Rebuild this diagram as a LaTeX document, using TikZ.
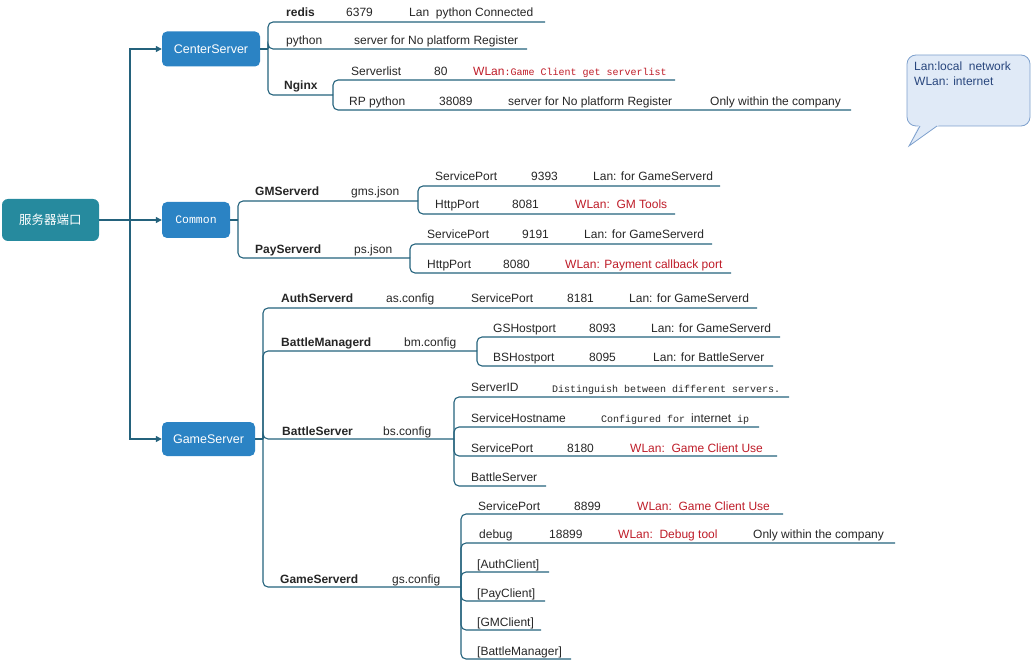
\documentclass[tikz,border=0pt]{standalone}
\usepackage{fontspec}
\setmainfont{Liberation Sans}
\newfontfamily\monof{Liberation Mono}
\newfontfamily\cjkf{Noto Sans CJK SC}
\usetikzlibrary{arrows.meta}

\definecolor{rootc}{RGB}{38,138,158}
\definecolor{boxc}{RGB}{43,131,196}
\definecolor{linec}{RGB}{36,98,124}
\definecolor{txtc}{RGB}{38,38,38}
\definecolor{redc}{RGB}{190,28,40}
\definecolor{notefill}{RGB}{224,234,247}
\definecolor{notedraw}{RGB}{125,160,205}
\definecolor{notetxt}{RGB}{40,70,125}

% text node at a baseline position: \tx[style]{name}{x}{baseline}{text}
\newcommand\tx[5][]{\node[lbl,#1] (#2) at (#3,#4) {#5};}
% end point of an underline: \ept{name}{x}{y}
\newcommand\ept[3]{\coordinate (#1) at (#2,#3);}
\newcommand\mono[1]{{\monof\fontsize{10}{12}\selectfont #1}}

\tikzset{
  lbl/.style={anchor=base west, inner sep=0pt, text=txtc, font=\fontsize{12}{14}\selectfont},
  bold/.style={font=\fontsize{12}{14}\selectfont\bfseries},
  red/.style={text=redc},
  ln/.style={draw=linec, line width=1.1pt},
  elbow/.style={ln, rounded corners=5pt},
  arr/.style={ln, -{Triangle[length=6pt,width=6pt]}},
  topic/.style={rounded corners=5pt, inner sep=0pt, text=white,
    font=\fontsize{12.5}{14}\selectfont}
}

\begin{document}
\begin{tikzpicture}[x=1pt,y=-1pt]
\useasboundingbox (0,0) rectangle (1031,660);

% ---- main topics ----
\node[topic, fill=rootc, rounded corners=6pt, minimum width=97pt, minimum height=42pt]
  (root) at (50.5,220) {\cjkf 服务器端口};
\node[topic, fill=boxc, minimum width=98pt, minimum height=35pt]
  (cs) at (211,49) {CenterServer};
\node[topic, fill=boxc, minimum width=68pt, minimum height=36pt]
  (com) at (196,220) {{\monof\fontsize{11.5}{13}\selectfont Common}};
\node[topic, fill=boxc, minimum width=93pt, minimum height=34pt]
  (gs) at (208.5,439) {GameServer};

% trunk
\coordinate (trunk) at (130,220);
\draw[ln] (root.east) -- (trunk);
\draw[arr] (trunk) |- (cs.west);
\draw[arr] (trunk) -- (com.west);
\draw[arr] (trunk) |- (gs.west);

% ---- CenterServer ----
\coordinate (csj) at (268,49);
\draw[ln] (cs.east) -- (csj);
\ept{redis-e}{545}{22}
\ept{python-e}{527}{49}
\ept{nginx-j}{333}{95}
\draw[elbow] (csj) |- (redis-e);
\draw[elbow] (csj) |- (python-e);
\draw[elbow] (csj) |- (nginx-j);
\tx[bold]{redis}{286}{17}{redis}
\tx{redisport}{346}{17}{6379}
\tx{redisnote}{409}{17}{Lan\ \ python Connected}
\tx{python}{286}{45}{python}
\tx{pythonnote}{354}{45}{server for No platform Register}
\tx[bold]{nginx}{284}{90}{Nginx}

\ept{slist-e}{675}{80}
\ept{rp-e}{851}{110}
\draw[elbow] (nginx-j) |- (slist-e);
\draw[elbow] (nginx-j) |- (rp-e);
\tx{slist}{351}{76}{Serverlist}
\tx{slistport}{434}{76}{80}
\tx[red]{slistnote}{473}{76}{WLan\mono{:Game Client get serverlist}}
\tx{rp}{349}{106}{RP python}
\tx{rpport}{439}{106}{38089}
\tx{rpnote}{508}{106}{server for No platform Register}
\tx{rpscope}{710}{106}{Only within the company}

% legend callout
\draw[draw=notedraw, fill=notefill, line width=0.8pt, rounded corners=9pt]
  (907,55) rectangle (1030,126);
\fill[notefill] (919,125) -- (909,146) -- (939,125) -- cycle;
\draw[draw=notedraw, line width=0.8pt] (920,126) -- (909,146) -- (937,126);
\tx[text=notetxt]{lanlegend}{914}{71}{Lan:local\ \ network}
\tx[text=notetxt]{wlanlegend}{914}{86}{WLan: internet}

% ---- Common ----
\coordinate (comj) at (238,220);
\draw[ln] (com.east) -- (comj);
\ept{gms-j}{418}{201}
\ept{ps-j}{410}{258}
\draw[elbow] (comj) |- (gms-j);
\draw[elbow] (comj) |- (ps-j);
\tx[bold]{gms}{255}{196}{GMServerd}
\tx{gmsfile}{351}{196}{gms.json}
\tx[bold]{ps}{255}{254}{PayServerd}
\tx{psfile}{354}{254}{ps.json}

\ept{gmssvc-e}{720}{186}
\ept{gmshttp-e}{675}{214}
\draw[elbow] (gms-j) |- (gmssvc-e);
\draw[elbow] (gms-j) |- (gmshttp-e);
\tx{gmssvc}{435}{181}{ServicePort}
\tx{gmssvcport}{531}{181}{9393}
\tx{gmssvcnote}{593}{181}{Lan: for GameServerd}
\tx{gmshttp}{435}{209}{HttpPort}
\tx{gmshttpport}{512}{209}{8081}
\tx[red]{gmshttpnote}{575}{209}{WLan:\ \ GM Tools}

\ept{pssvc-e}{712}{244}
\ept{pshttp-e}{731}{273}
\draw[elbow] (ps-j) |- (pssvc-e);
\draw[elbow] (ps-j) |- (pshttp-e);
\tx{pssvc}{427}{239}{ServicePort}
\tx{pssvcport}{522}{239}{9191}
\tx{pssvcnote}{584}{239}{Lan: for GameServerd}
\tx{pshttp}{427}{269}{HttpPort}
\tx{pshttpport}{503}{269}{8080}
\tx[red]{pshttpnote}{565}{269}{WLan: Payment callback port}

% ---- GameServer ----
\coordinate (gsj) at (263,439);
\draw[ln] (gs.east) -- (gsj);
\ept{as-e}{757}{308}
\ept{bm-j}{477}{351}
\ept{bs-j}{454}{439}
\ept{gsd-j}{461}{587}
\draw[elbow] (gsj) |- (as-e);
\draw[elbow] (gsj) |- (bm-j);
\draw[elbow] (gsj) |- (bs-j);
\draw[elbow] (gsj) |- (gsd-j);

\tx[bold]{as}{281}{303}{AuthServerd}
\tx{asfile}{386}{303}{as.config}
\tx{assvc}{471}{303}{ServicePort}
\tx{assvcport}{567}{303}{8181}
\tx{assvcnote}{629}{303}{Lan: for GameServerd}

\tx[bold]{bm}{281}{347}{BattleManagerd}
\tx{bmfile}{404}{347}{bm.config}
\ept{gshost-e}{780}{337}
\ept{bshost-e}{773}{366}
\draw[elbow] (bm-j) |- (gshost-e);
\draw[elbow] (bm-j) |- (bshost-e);
\tx{gshost}{493}{333}{GSHostport}
\tx{gshostport}{589}{333}{8093}
\tx{gshostnote}{651}{333}{Lan: for GameServerd}
\tx{bshost}{493}{362}{BSHostport}
\tx{bshostport}{589}{362}{8095}
\tx{bshostnote}{653}{362}{Lan: for BattleServer}

\tx[bold]{bs}{282}{435}{BattleServer}
\tx{bsfile}{383}{435}{bs.config}
\ept{bsid-e}{789}{397}
\ept{bshn-e}{759}{427}
\ept{bssvc-e}{777}{456}
\ept{bsname-e}{546}{486}
\draw[elbow] (bs-j) |- (bsid-e);
\draw[elbow] (bs-j) |- (bshn-e);
\draw[elbow] (bs-j) |- (bssvc-e);
\draw[elbow] (bs-j) |- (bsname-e);
\tx{bsid}{471}{391}{ServerID}
\tx{bsidnote}{552}{392}{\mono{Distinguish between different servers.}}
\tx{bshn}{471}{422}{ServiceHostname}
\tx{bshnnote}{601}{422}{\mono{Configured for }internet\mono{ ip}}
\tx{bssvc}{471}{452}{ServicePort}
\tx{bssvcport}{567}{452}{8180}
\tx[red]{bssvcnote}{630}{452}{WLan:\ \ Game Client Use}
\tx{bsname}{471}{481}{BattleServer}

\tx[bold]{gsd}{280}{583}{GameServerd}
\tx{gsdfile}{392}{583}{gs.config}
\ept{gsdsvc-e}{783}{514}
\ept{gsddbg-e}{895}{543}
\ept{gsdauth-e}{549}{572}
\ept{gsdpay-e}{545}{601}
\ept{gsdgm-e}{541}{630}
\ept{gsdbm-e}{571}{659}
\draw[elbow] (gsd-j) |- (gsdsvc-e);
\draw[elbow] (gsd-j) |- (gsddbg-e);
\draw[elbow] (gsd-j) |- (gsdauth-e);
\draw[elbow] (gsd-j) |- (gsdpay-e);
\draw[elbow] (gsd-j) |- (gsdgm-e);
\draw[elbow] (gsd-j) |- (gsdbm-e);
\tx{gsdsvc}{478}{510}{ServicePort}
\tx{gsdsvcport}{574}{510}{8899}
\tx[red]{gsdsvcnote}{637}{510}{WLan:\ \ Game Client Use}
\tx{gsddbg}{479}{538}{debug}
\tx{gsddbgport}{549}{538}{18899}
\tx[red]{gsddbgnote}{618}{538}{WLan:\ \ Debug tool}
\tx{gsddbgscope}{753}{538}{Only within the company}
\tx{gsdauth}{477}{568}{[AuthClient]}
\tx{gsdpay}{477}{597}{[PayClient]}
\tx{gsdgm}{477}{626}{[GMClient]}
\tx{gsdbm}{477}{655}{[BattleManager]}

\end{tikzpicture}
\end{document}
